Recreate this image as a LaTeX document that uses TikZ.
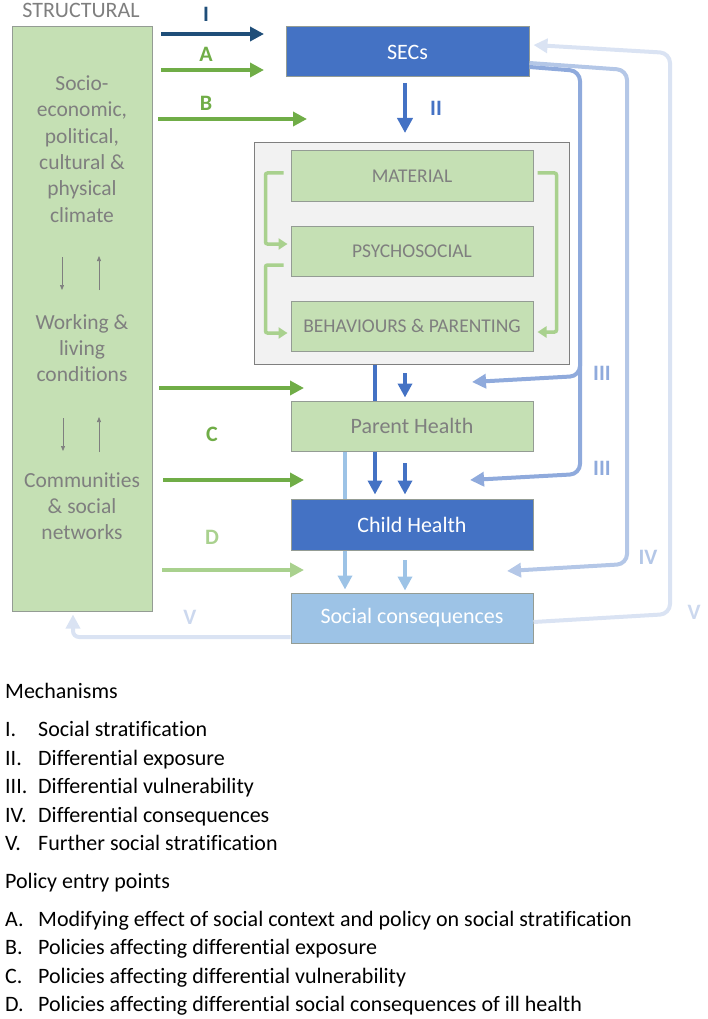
\documentclass[tikz,border=0pt]{standalone}
\usepackage{fontspec}
\setmainfont{Carlito}[Ligatures=NoCommon]
\usetikzlibrary{arrows.meta,calc}
\definecolor{navy}{HTML}{1F4E79}
\definecolor{pgreen}{HTML}{70AD47}
\definecolor{lgarrow}{HTML}{A9D18E}
\definecolor{boxgreen}{HTML}{C5E0B4}
\definecolor{secblue}{HTML}{4472C4}
\definecolor{cIII}{HTML}{8FAADC}
\definecolor{cIV}{HTML}{B4C7E7}
\definecolor{cV}{HTML}{DAE3F3}
\definecolor{cVlab}{HTML}{CCD8EE}
\definecolor{socblue}{HTML}{9DC3E6}
\definecolor{panelfill}{HTML}{F2F2F2}
\definecolor{txtgray}{HTML}{7F7F7F}
\definecolor{boxline}{HTML}{949C94}
\begin{document}
\begin{tikzpicture}[x=1pt,y=-1pt,
  box/.style={draw=boxline, line width=1pt, minimum width=242pt, minimum height=50pt, inner sep=0pt, font=\fontsize{22}{26}\selectfont},
  greenbox/.style={box, fill=boxgreen, text=txtgray},
  innerbox/.style={greenbox, font=\fontsize{19.5}{23}\selectfont},
  lefttext/.style={align=center, text=txtgray, inner sep=0pt, font=\fontsize{21.5}{26.3}\selectfont},
  lab/.style={inner sep=0pt, font=\fontsize{22}{26}\selectfont\bfseries},
  listtxt/.style={anchor=base west, inner sep=0pt, font=\fontsize{22}{26}\selectfont},
  fat/.style={line width=4pt, -{Triangle[length=14pt,width=14pt]}},
  fatplain/.style={line width=4pt},
  bracket/.style={line width=3.5pt, draw=lgarrow, rounded corners=2pt, -{Triangle[length=9pt,width=11pt]}},
  thinarr/.style={line width=0.7pt, draw=txtgray, -{Triangle[length=5pt,width=4pt]}},
  sidearr/.style={line width=4pt, rounded corners=10pt, -{Triangle[length=14pt,width=14pt]}},
  sideline/.style={line width=4pt, rounded corners=10pt}
]
\useasboundingbox (0,0) rectangle (708,1019);

% structural column
\node[draw=boxline, line width=1pt, fill=boxgreen, minimum width=140pt, minimum height=584pt, inner sep=0pt] (struct) at (82,319) {};
\node[inner sep=0pt, text=txtgray, font=\fontsize{22}{26}\selectfont] (structlab) at (81,10) {STRUCTURAL};
\node[lefttext] (soc) at (82,149) {Socio-\\economic,\\political,\\cultural \&\\physical\\climate};
\node[lefttext] (work) at (82,348) {Working \&\\living\\conditions};
\node[lefttext] (comm) at (82,506) {Communities\\\& social\\networks};

\coordinate (d1s) at (62,257); \coordinate (d1e) at (62,290);
\coordinate (u1s) at (99,290); \coordinate (u1e) at (99,256);
\coordinate (d2s) at (63,418); \coordinate (d2e) at (63,451);
\coordinate (u2s) at (99,452); \coordinate (u2e) at (99,417);
\draw[thinarr] (d1s) -- (d1e);
\draw[thinarr] (u1s) -- (u1e);
\draw[thinarr] (d2s) -- (d2e);
\draw[thinarr] (u2s) -- (u2e);

% main boxes
\node[box, fill=secblue, text=white, minimum width=243pt] (secs) at (407.5,52) {SECs};
\node[draw=txtgray, fill=panelfill, line width=1pt, minimum width=315pt, minimum height=221pt, inner sep=0pt] (panel) at (411.5,253.5) {};
\node[innerbox] (material) at (412,176) {MATERIAL};
\node[innerbox] (psycho) at (412,251) {PSYCHOSOCIAL};
\node[innerbox] (behav) at (412,326) {BEHAVIOURS \& PARENTING};
\node[greenbox] (parent) at (412,426) {Parent Health};
\node[box, fill=secblue, text=white, minimum height=51pt] (child) at (412,524.5) {Child Health};
\node[box, fill=socblue, text=white] (social) at (412,618) {Social consequences};

% labels
\node[lab, text=navy] (lI) at (206,14) {I};
\node[lab, text=pgreen] (lA) at (206,54) {A};
\node[lab, text=pgreen] (lB) at (206,103) {B};
\node[lab, text=pgreen] (lC) at (212,434) {C};
\node[lab, text=lgarrow] (lD) at (212,537) {D};
\node[lab, text=secblue] (lII) at (436,108) {II};
\node[lab, text=cIII] (lIIIa) at (602,373) {III};
\node[lab, text=cIII] (lIIIb) at (602,468) {III};
\node[lab, text=cIV] (lIV) at (648,557) {IV};
\node[lab, text=cVlab] (lVr) at (694,612) {V};
\node[lab, text=cVlab] (lVl) at (190,617) {V};

% arrows from structural column
\coordinate (Is) at (161,34); \coordinate (Ie) at (264,34);
\coordinate (As) at (161,70); \coordinate (Ae) at (264,70);
\coordinate (Bs) at (158,119); \coordinate (Be) at (307,119);
\coordinate (C1s) at (159,388); \coordinate (C1e) at (304,388);
\coordinate (C2s) at (163,480); \coordinate (C2e) at (304,480);
\coordinate (Ds) at (162,570); \coordinate (De) at (304,570);
\draw[fat, navy] (Is) -- (Ie);
\draw[fat, pgreen] (As) -- (Ae);
\draw[fat, pgreen] (Bs) -- (Be);
\draw[fat, pgreen] (C1s) -- (C1e);
\draw[fat, pgreen] (C2s) -- (C2e);
\draw[fat, lgarrow] (Ds) -- (De);

% II
\coordinate (IIs) at (405,83); \coordinate (IIe) at (405,133);
\draw[fat, secblue, -{Triangle[length=15pt,width=15pt]}] (IIs) -- (IIe);

% brackets in the panel (yshift positive = up)
\draw[bracket] ([xshift=-7pt,yshift=3pt]material.west) -- ++(-18,0) |- ([xshift=-3pt,yshift=7pt]psycho.west);
\draw[bracket] ([xshift=-7pt,yshift=-14pt]psycho.west) -- ++(-18,0) |- ([xshift=-3pt,yshift=-7pt]behav.west);
\draw[bracket] ([xshift=4pt,yshift=3pt]material.east) -- ++(19,0) |- ([xshift=4pt,yshift=-6pt]behav.east);

% vertical flow
\draw[fatplain, secblue] (panel.south -| 375,0) -- (parent.north -| 375,0);
\draw[fat, secblue] (parent.south -| 375,0) -- ([yshift=4pt]child.north -| 375,0);
\coordinate (p1) at (405,373);
\draw[fat, secblue] (p1) -- ([yshift=3pt]parent.north -| p1);
\coordinate (p2) at (405,463);
\draw[fat, secblue] (p2) -- ([yshift=4pt]child.north -| p2);
\draw[fatplain, socblue] (parent.south -| 345,0) -- (child.north -| 345,0);
\draw[fat, socblue] (child.south -| 345,0) -- ([yshift=3pt]social.north -| 345,0);
\coordinate (p3) at (405,560);
\draw[fat, socblue] (p3) -- ([yshift=2pt]social.north -| p3);

% right side loops
\coordinate (IIIt) at (470,480);
\coordinate (IIIu) at (472,382);
\coordinate (IVt) at (507,571);
\draw[sidearr, cIV] ([yshift=-11pt]secs.east) -- (627,70) -- (627,564) -- (IVt);
\draw[sidearr, cIII] ([yshift=-15pt]secs.east) -- (580,71) -- (580,474) -- (IIIt);
\draw[sidearr, cIII] (580,330) -- (580,376) -- (IIIu);
\draw[sidearr, cV] ([yshift=-4pt]social.east) -- (670,614) -- (670,53) -- ([xshift=4pt,yshift=7pt]secs.east);
\draw[sidearr, cV, rounded corners=6pt] ([yshift=-19pt]social.west) -- (73,637) -- ([yshift=-3pt]struct.south -| 73,0);

% legend
\node[listtxt] (mech) at (5,698) {Mechanisms};
\node[listtxt] (n1) at (5,736) {I.};   \node[listtxt] (t1) at (38,736) {Social stratification};
\node[listtxt] (n2) at (5,765) {II.};  \node[listtxt] (t2) at (38,765) {Differential exposure};
\node[listtxt] (n3) at (5,793) {III.}; \node[listtxt] (t3) at (38,793) {Differential vulnerability};
\node[listtxt] (n4) at (5,822) {IV.};  \node[listtxt] (t4) at (38,822) {Differential consequences};
\node[listtxt] (n5) at (5,850) {V.};   \node[listtxt] (t5) at (38,850) {Further social stratification};
\node[listtxt] (pol) at (5,888) {Policy entry points};
\node[listtxt] (na) at (5,926) {A.}; \node[listtxt] (ta) at (38,926) {Modifying effect of social context and policy on social stratification};
\node[listtxt] (nb) at (5,954) {B.}; \node[listtxt] (tb) at (38,954) {Policies affecting differential exposure};
\node[listtxt] (nc) at (5,983) {C.}; \node[listtxt] (tc) at (38,983) {Policies affecting differential vulnerability};
\node[listtxt] (nd) at (5,1011) {D.}; \node[listtxt] (td) at (38,1011) {Policies affecting differential social consequences of ill health};
\end{tikzpicture}
\end{document}
